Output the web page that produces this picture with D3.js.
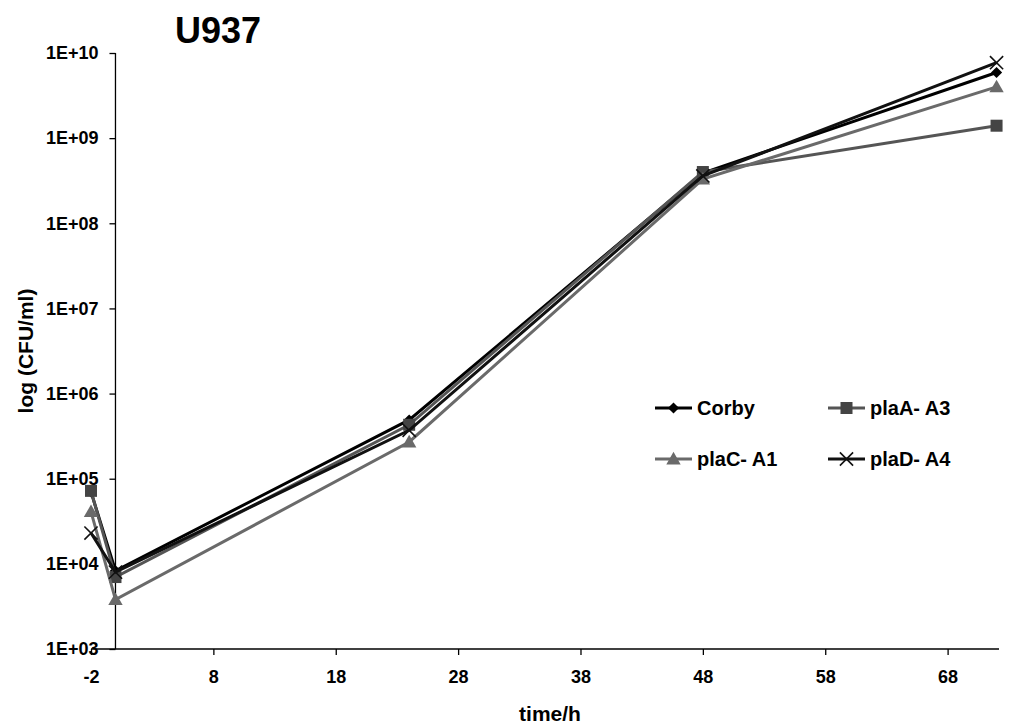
<!DOCTYPE html>
<html>
<head>
<meta charset="utf-8">
<script src="https://cdn.jsdelivr.net/npm/d3@7"></script>
<style>
  body { margin: 0; background: #fff; }
  svg text { font-family: "Liberation Sans", Arial, sans-serif; font-weight: bold; fill: #000; }
</style>
</head>
<body>
<svg id="chart" width="1010" height="725"></svg>
<script>
// Время (ч) и значения КОЕ/мл для каждого штамма
const times = [-2, 0, 24, 48, 72];
const corby = [7.0e4, 8.3e3, 4.9e5, 3.9e8, 5.9e9];
const plaA = [7.2e4, 7.0e3, 4.3e5, 4.0e8, 1.4e9];
const plaC = [4.1e4, 3.8e3, 2.7e5, 3.3e8, 4.0e9];
const plaD = [2.3e4, 8.0e3, 3.7e5, 3.6e8, 7.7e9];

const seriesNames = ["Corby", "plaA- A3", "plaC- A1", "plaD- A4"];
const xTicks = [-2, 8, 18, 28, 38, 48, 58, 68];
const yTicks = [1e3, 1e4, 1e5, 1e6, 1e7, 1e8, 1e9, 1e10];

const svg = d3.select("#chart");

// Шкалы
const x = d3.scaleLinear().domain([-2, 72.2]).range([91, 999]);
const y = d3.scaleLog().domain([1e3, 1e10]).range([649, 53]);

// Стили серий
const styles = [
  { name: seriesNames[0], values: corby, line: "#000000", fill: "#000000", marker: "diamond" },
  { name: seriesNames[1], values: plaA, line: "#555555", fill: "#444444", marker: "square" },
  { name: seriesNames[2], values: plaC, line: "#6a6a6a", fill: "#6a6a6a", marker: "triangle" },
  { name: seriesNames[3], values: plaD, line: "#111111", fill: "#111111", marker: "cross" }
];

// Ось X (горизонтальная линия на уровне 1E+03)
const xAxis = d3.axisBottom(x).tickValues(xTicks).tickSize(6).tickPadding(15).tickFormat(d => String(d));
const gx = svg.append("g").attr("transform", `translate(0, ${y(1e3)})`).call(xAxis);
gx.select(".domain").attr("d", `M${x(-2)},0H${x(72.2)}`).attr("stroke", "#000").attr("stroke-width", 1.3);
gx.selectAll(".tick line").attr("stroke", "#000").attr("stroke-width", 1.3);
gx.selectAll(".tick text").attr("font-size", 18).style("font-weight", "bold");

// Ось Y пересекает X в точке t = 0
const yAxis = d3.axisLeft(y).tickValues(yTicks).tickSize(6).tickPadding(12)
  .tickFormat(d => "1E+" + String(Math.round(Math.log10(d))).padStart(2, "0"));
const gy = svg.append("g").attr("transform", `translate(${x(0)}, 0)`).call(yAxis);
gy.select(".domain").attr("d", `M0,${y(1e10)}V${y(1e3)}`).attr("stroke", "#000").attr("stroke-width", 1.3);
gy.selectAll(".tick line").attr("stroke", "#000").attr("stroke-width", 1.3);
gy.selectAll(".tick text").attr("font-size", 18).style("font-weight", "bold").attr("x", -17);

// Генератор линий
const line = d3.line().x((d, i) => x(times[i])).y(d => y(d));

function drawMarker(g, type, color, size) {
  if (type === "diamond") {
    g.append("path").attr("d", d3.symbol(d3.symbolDiamond2, size * size * 0.55)())
      .attr("fill", color);
  } else if (type === "square") {
    g.append("rect").attr("x", -size / 2).attr("y", -size / 2)
      .attr("width", size).attr("height", size).attr("fill", color);
  } else if (type === "triangle") {
    g.append("path").attr("d", `M0,${-size * 0.6}L${size * 0.6},${size * 0.45}L${-size * 0.6},${size * 0.45}Z`)
      .attr("fill", color);
  } else {
    const h = size * 0.55;
    g.append("path").attr("d", `M${-h},${-h}L${h},${h}M${-h},${h}L${h},${-h}`)
      .attr("stroke", color).attr("stroke-width", 1.6).attr("fill", "none");
  }
}

// Линии и маркеры
styles.forEach(s => {
  svg.append("path").datum(s.values)
    .attr("d", line)
    .attr("fill", "none")
    .attr("stroke", s.line)
    .attr("stroke-width", 3);
  s.values.forEach((v, i) => {
    const g = svg.append("g").attr("transform", `translate(${x(times[i])}, ${y(v)})`);
    drawMarker(g, s.marker, s.fill, 12);
  });
});

// Легенда
const legendPos = [[655, 408], [828, 408], [655, 459], [828, 459]];
styles.forEach((s, i) => {
  const [lx, ly] = legendPos[i];
  const g = svg.append("g").attr("transform", `translate(${lx}, ${ly})`);
  g.append("line").attr("x1", 0).attr("x2", 37).attr("y1", 0).attr("y2", 0)
    .attr("stroke", s.line).attr("stroke-width", 3);
  const m = g.append("g").attr("transform", "translate(18.5, 0)");
  drawMarker(m, s.marker, s.fill, 12);
  g.append("text").attr("x", 42).attr("y", 0).attr("dy", "0.35em")
    .attr("font-size", 20).text(s.name);
});

// Заголовок и подписи осей
svg.append("text").attr("x", 218).attr("y", 43).attr("text-anchor", "middle")
  .attr("font-size", 36).text("U937");
svg.append("text").attr("x", 550).attr("y", 721).attr("text-anchor", "middle")
  .attr("font-size", 21).text("time/h");
svg.append("text").attr("transform", "translate(33, 351) rotate(-90)").attr("text-anchor", "middle")
  .attr("font-size", 21).text("log (CFU/ml)");
</script>
</body>
</html>
